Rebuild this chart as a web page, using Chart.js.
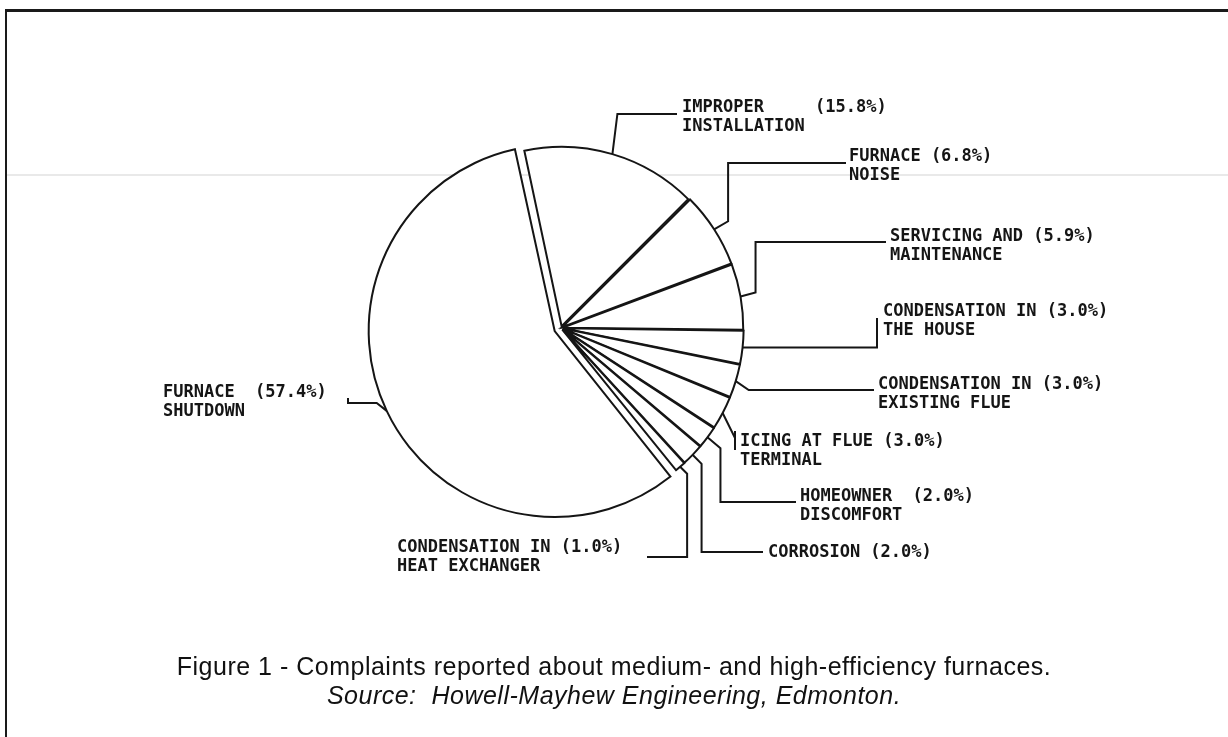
<!DOCTYPE html>
<html>
<head>
<meta charset="utf-8">
<script src="https://cdn.jsdelivr.net/npm/chart.js@4.4.1/dist/chart.umd.min.js"></script>
<style>
  html, body { margin: 0; padding: 0; background: #fff; }
  #page { position: relative; width: 1228px; height: 737px; overflow: hidden; background: #fff; }
  #frame { position: absolute; left: 5px; top: 9px; width: 1300px; height: 800px;
           border-top: 3px solid #1a1a1a; border-left: 2px solid #1a1a1a; }
  #scanline { position: absolute; left: 7px; top: 174px; width: 1221px; height: 2px; background: #e9e9e9; }
  #chart { position: absolute; left: 0; top: 0; }
  #caption { position: absolute; left: 0; top: 652px; width: 1228px; text-align: center;
             font-family: "Liberation Sans", Arial, sans-serif; font-size: 25px; letter-spacing: 0.5px;
             line-height: 29px; color: #111; }
</style>
</head>
<body>
<div id="page">
  <div id="frame"></div>
  <div id="scanline"></div>
  <canvas id="chart" width="1228" height="737"></canvas>
  <div id="caption">
    <div>Figure 1 - Complaints reported about medium- and high-efficiency furnaces.</div>
    <div><i>Source:&nbsp; Howell-Mayhew Engineering, Edmonton.</i></div>
  </div>
</div>
<script>
// Complaint categories (two text lines each) and their share of all complaints, in %
const categories = [
  ['IMPROPER', 'INSTALLATION'],
  ['FURNACE', 'NOISE'],
  ['SERVICING AND', 'MAINTENANCE'],
  ['CONDENSATION IN', 'THE HOUSE'],
  ['CONDENSATION IN', 'EXISTING FLUE'],
  ['ICING AT FLUE', 'TERMINAL'],
  ['HOMEOWNER', 'DISCOMFORT'],
  ['CORROSION'],
  ['CONDENSATION IN', 'HEAT EXCHANGER'],
  ['FURNACE', 'SHUTDOWN']
];
const shares = [15.8, 6.8, 5.9, 3.0, 3.0, 3.0, 2.0, 2.0, 1.0, 57.4];

// Callout placement: text anchor (left x, first baseline), column of the percentage,
// and the elbow route of the leader line starting from the slice's rim point r.
const callouts = [
  { x: 682, y: 112, col: 13, route: r => [[r.x + 5, 114], [677, 114]] },
  { x: 849, y: 161, col: 8,  route: r => [[r.x + 14, r.y - 8], [r.x + 14, 163], [846, 163]] },
  { x: 890, y: 241, col: 14, route: r => [[r.x + 15, r.y - 4], [r.x + 15, 242], [886, 242]] },
  { x: 883, y: 316, col: 16, route: r => [[877, r.y], [877, 318]] },
  { x: 878, y: 389, col: 16, route: r => [[r.x + 13, 390], [874, 390]] },
  { x: 740, y: 446, col: 14, route: r => [[735, 438], [735, 431], [735, 450]] },
  { x: 800, y: 501, col: 11, route: r => [[r.x + 13, r.y + 11], [r.x + 13, 502], [796, 502]] },
  { x: 768, y: 557, col: 10, route: r => [[r.x + 9, r.y + 9], [r.x + 9, 552], [763, 552]] },
  { x: 397, y: 552, col: 16, route: r => [[r.x + 7, r.y + 7], [r.x + 7, 557], [647, 557]] },
  { x: 163, y: 397, col: 9,  route: r => [[r.x - 10, 403], [348, 403], [348, 398]] }
];

const INK = '#151515';
const LINE_GAP = 19;

const calloutPlugin = {
  id: 'callouts',
  afterDatasetsDraw(chart) {
    const ctx = chart.ctx;
    const meta = chart.getDatasetMeta(0);
    ctx.save();
    ctx.strokeStyle = INK;
    ctx.fillStyle = INK;
    ctx.lineWidth = 2;
    ctx.lineJoin = 'miter';
    ctx.font = 'bold 17px "DejaVu Sans Mono", monospace';
    ctx.textBaseline = 'alphabetic';
    meta.data.forEach((arc, i) => {
      const p = arc.getProps(['x', 'y', 'startAngle', 'endAngle', 'outerRadius'], true);
      const mid = (p.startAngle + p.endAngle) / 2;
      const shift = (arc.options.offset || 0) / 4;
      const fix = 1 - Math.sin(Math.min(Math.PI, p.endAngle - p.startAngle));
      const rr = p.outerRadius + shift * fix + shift;
      const rim = { x: p.x + Math.cos(mid) * rr, y: p.y + Math.sin(mid) * rr };
      const c = callouts[i];
      const pts = c.route(rim);
      ctx.beginPath();
      ctx.moveTo(rim.x, rim.y);
      pts.forEach(q => ctx.lineTo(q[0], q[1]));
      ctx.stroke();

      const name = categories[i];
      const pct = '(' + shares[i].toFixed(1) + '%)';
      const first = name[0].padEnd(c.col, ' ') + pct;
      ctx.fillText(first, c.x, c.y);
      if (name[1]) ctx.fillText(name[1], c.x, c.y + LINE_GAP);
    });
    ctx.restore();
  }
};

new Chart(document.getElementById('chart'), {
  type: 'pie',
  data: {
    labels: categories.map(n => n.join(' ')),
    datasets: [{
      data: shares,
      backgroundColor: '#ffffff',
      borderColor: INK,
      borderWidth: 2,
      borderJoinStyle: 'miter',
      // the dominant slice is pulled further out than the rest
      offset: ctx => (ctx.raw > 50 ? 28 : 8)
    }]
  },
  options: {
    responsive: false,
    devicePixelRatio: 1,
    animation: false,
    rotation: -12,
    radius: 179,
    layout: { padding: { left: 0, right: 106, top: 0, bottom: 81 } },
    plugins: { legend: { display: false }, tooltip: { enabled: false } },
    events: []
  },
  plugins: [calloutPlugin]
});
</script>
</body>
</html>
